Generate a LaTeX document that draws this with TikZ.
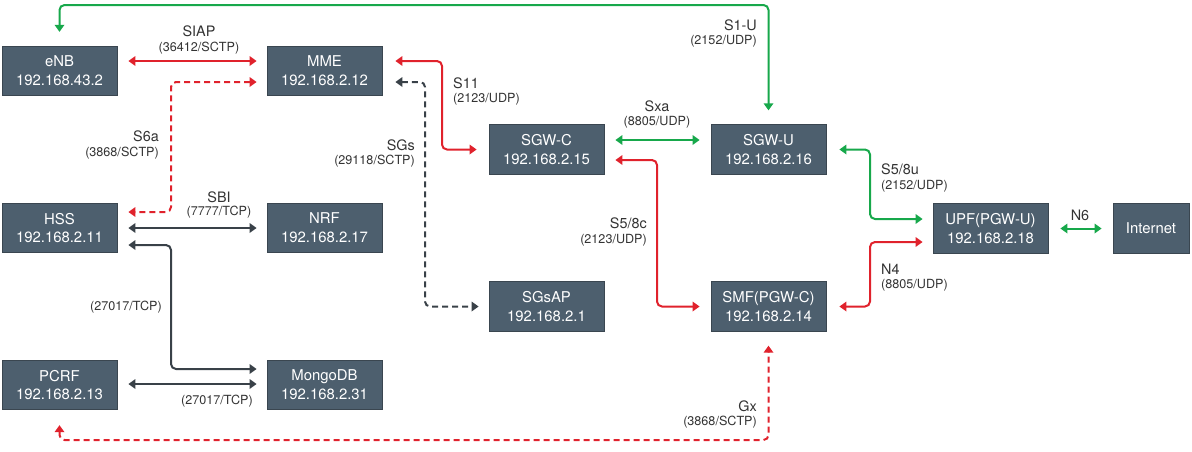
\documentclass[tikz,border=0pt]{standalone}
\usepackage{fontspec}
\setmainfont{TeX Gyre Heros}
\usetikzlibrary{arrows.meta,calc}
\definecolor{boxfill}{HTML}{4D5F6E}
\definecolor{boxline}{HTML}{3A4650}
\definecolor{lbltext}{HTML}{333333}
\definecolor{cred}{HTML}{E0222C}
\definecolor{cgreen}{HTML}{17A84B}
\definecolor{cdark}{HTML}{394148}
\begin{document}
\begin{tikzpicture}[x=1pt,y=-1pt,
  box/.style={draw=boxline, line width=0.8pt, fill=boxfill, text=white,
    minimum width=115pt, minimum height=49.5pt, inner sep=0pt, align=center,
    font=\fontsize{14.9}{18.8}\selectfont},
  lbl/.style={text=lbltext, inner sep=0pt, font=\fontsize{14.4}{16}\selectfont},
  sub/.style={text=lbltext, inner sep=0pt, font=\fontsize{12.6}{14}\selectfont},
  conn/.style={line width=2pt, rounded corners=5pt,
    {Triangle[length=7pt,width=9.5pt]}-{Triangle[length=7pt,width=9.5pt]}},
  redc/.style={conn, draw=cred},
  greenc/.style={conn, draw=cgreen},
  darkc/.style={conn, draw=cdark},
  dashedline/.style={dash pattern=on 6pt off 4pt}
]
\useasboundingbox (0,0) rectangle (1192,451);

% boxes
\node[box] (eNB) at (59.5,71) {eNB\\192.168.43.2};
\node[box] (MME) at (324.5,71) {MME\\192.168.2.12};
\node[box] (HSS) at (59.5,228) {HSS\\192.168.2.11};
\node[box] (NRF) at (324.5,228) {NRF\\192.168.2.17};
\node[box] (PCRF) at (59.5,385) {PCRF\\192.168.2.13};
\node[box] (Mongo) at (324.5,385) {MongoDB\\192.168.2.31};
\node[box] (SGWC) at (546.5,149.5) {SGW-C\\192.168.2.15};
\node[box] (SGWU) at (768.5,149.5) {SGW-U\\192.168.2.16};
\node[box] (SGsAP) at (546.5,306.5) {SGsAP\\192.168.2.1};
\node[box] (SMF) at (768.5,306.5) {SMF(PGW-C)\\192.168.2.14};
\node[box] (UPF) at (990.5,228.5) {UPF(PGW-U)\\192.168.2.18};
\node[box, minimum width=76pt] (Inet) at (1151,228.5) {Internet};

% connectors
\draw[redc] ($(eNB.east)+(11,-10)$) -- ($(MME.west)+(-10,-10)$);
\draw[redc, dashedline] ($(MME.west)+(-10,11)$) -- (171,82) -- (171,212) -- ($(HSS.east)+(11,-16)$);
\draw[darkc] ($(HSS.east)+(11,0)$) -- ($(NRF.west)+(-10,0)$);
\draw[darkc] ($(HSS.east)+(11,17)$) -- (171,245) -- (171,369) -- ($(Mongo.west)+(-10,-16)$);
\draw[darkc] ($(PCRF.east)+(11,-1)$) -- ($(Mongo.west)+(-10,-1)$);
\draw[redc, dashedline] ($(PCRF.south)+(0,15)$) -- (59.5,440) -- (768.5,440) -- ($(SMF.south)+(0,14)$);
\draw[greenc] ($(eNB.north)+(0,-14)$) -- (59.5,5) -- (768.5,5) -- ($(SGWU.north)+(0,-14)$);
\draw[redc] ($(MME.east)+(13,-10)$) -- (442,61) -- (442,149.5) -- ($(SGWC.west)+(-12,0)$);
\draw[darkc, dashedline] ($(MME.east)+(13,11)$) -- (425,82) -- (425,306.5) -- ($(SGsAP.west)+(-10,0)$);
\draw[greenc] ($(SGWC.east)+(11,-9.5)$) -- ($(SGWU.west)+(-11,-9.5)$);
\draw[redc] ($(SGWC.east)+(11,10.5)$) -- (657,160) -- (657,306.5) -- ($(SMF.west)+(-11,0)$);
\draw[greenc] ($(SGWU.east)+(13,0)$) -- (870,149.5) -- (870,219) -- ($(UPF.west)+(-10,-9.5)$);
\draw[redc] ($(SMF.east)+(13,0)$) -- (870,306.5) -- (870,242) -- ($(UPF.west)+(-10,13.5)$);
\draw[greenc] ($(UPF.east)+(12,0)$) -- ($(Inet.west)+(-11,0)$);

% labels
\node[lbl] (l1) at (199,31) {SIAP};
\node[sub] (s1) at (199,48) {(36412/SCTP)};
\node[lbl, anchor=east] (l2) at (159,136) {S6a};
\node[sub, anchor=east] (s2) at (159,153) {(3868/SCTP)};
\node[lbl] (l3) at (219,197) {SBI};
\node[sub] (s3) at (219,212) {(7777/TCP)};
\node[sub, anchor=east] (s4) at (162,307) {(27017/TCP)};
\node[sub] (s5) at (217,401) {(27017/TCP)};
\node[lbl, anchor=east] (l6) at (415,145) {SGs};
\node[sub, anchor=east] (s6) at (415,161) {(29118/SCTP)};
\node[lbl, anchor=west] (l7) at (453,83) {S11};
\node[sub, anchor=west] (s7) at (453,99) {(2123/UDP)};
\node[lbl, anchor=east] (l8) at (757,25) {S1-U};
\node[sub, anchor=east] (s8) at (757,41) {(2152/UDP)};
\node[lbl] (l9) at (657,106) {Sxa};
\node[sub] (s9) at (657,122) {(8805/UDP)};
\node[lbl, anchor=east] (l10) at (647,223) {S5/8c};
\node[sub, anchor=east] (s10) at (647,240) {(2123/UDP)};
\node[lbl, anchor=east] (l11) at (757,406) {Gx};
\node[sub, anchor=east] (s11) at (757,422) {(3868/SCTP)};
\node[lbl, anchor=west] (l12) at (881,169) {S5/8u};
\node[sub, anchor=west] (s12) at (881,186) {(2152/UDP)};
\node[lbl, anchor=west] (l13) at (881,269) {N4};
\node[sub, anchor=west] (s13) at (881,285) {(8805/UDP)};
\node[lbl] (l14) at (1080,215) {N6};
\end{tikzpicture}
\end{document}
